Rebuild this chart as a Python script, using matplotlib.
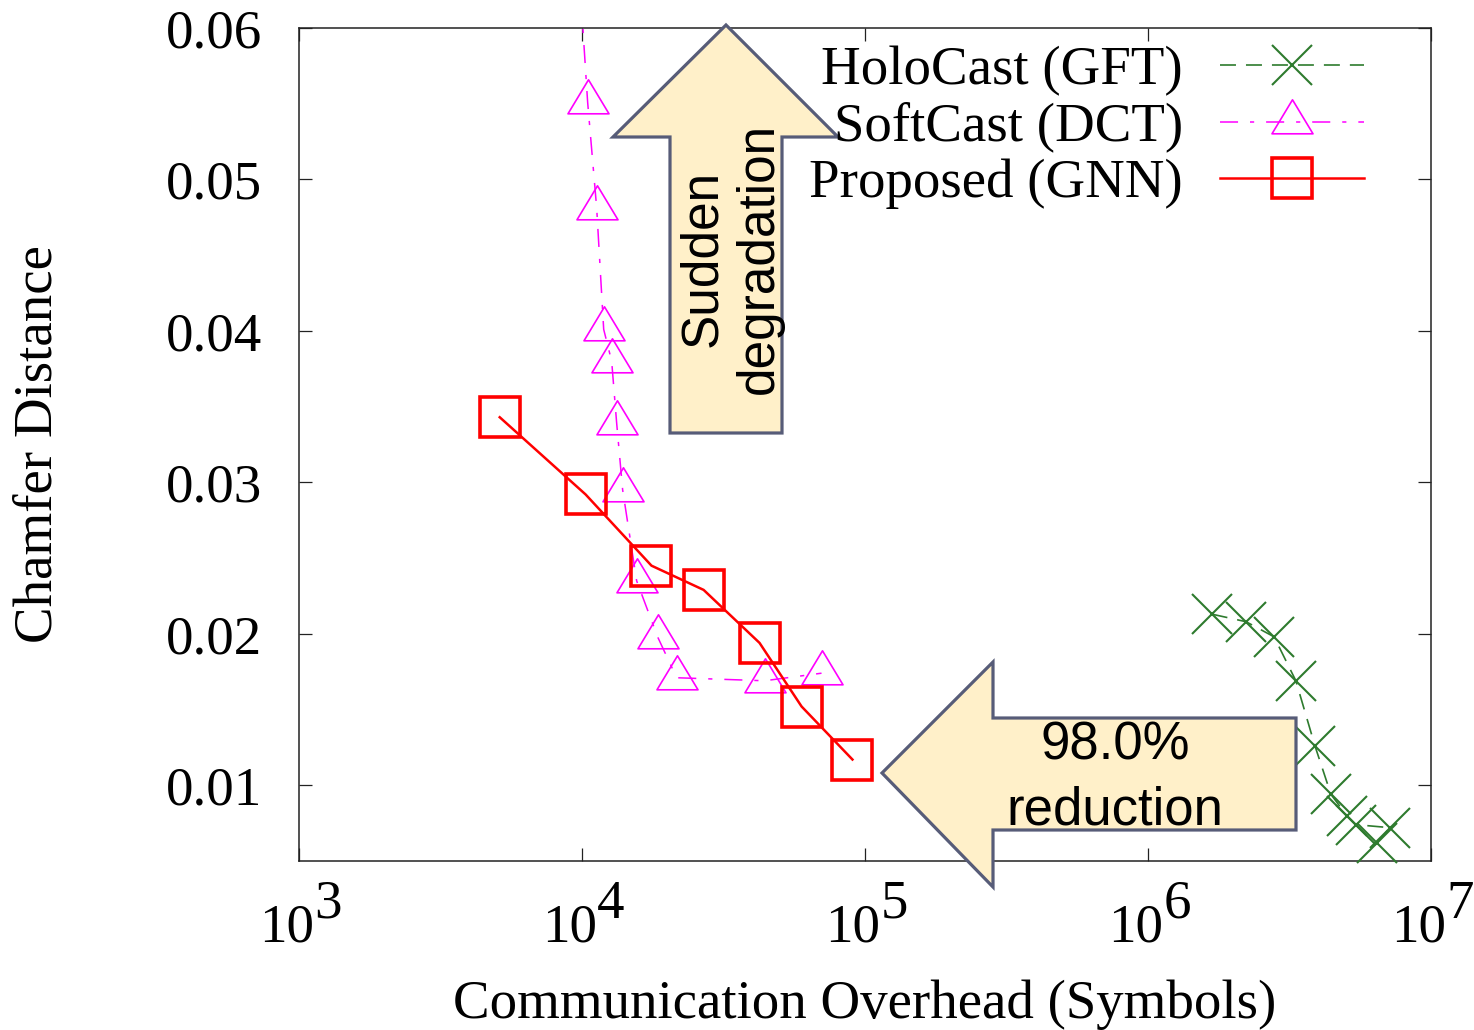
import matplotlib
matplotlib.use('Agg')
import matplotlib.pyplot as plt
import matplotlib.transforms as mtransforms
from matplotlib.patches import Polygon
from matplotlib.path import Path
from matplotlib.ticker import NullLocator

plt.rcParams['font.family'] = ['Liberation Serif', 'DejaVu Serif']
plt.rcParams['lines.scale_dashes'] = False

# ---------------- data ----------------
holo_x = [1.68e6, 2.22e6, 2.79e6, 3.33e6, 3.89e6, 4.43e6, 5.04e6, 5.43e6, 7.16e6, 6.44e6]
holo_y = [0.0213, 0.0208, 0.0198, 0.0169, 0.0126, 0.0094, 0.0080, 0.0074, 0.0072, 0.0062]

soft_x = [9300, 10470, 11270, 11930, 12730, 13260, 13920, 15600, 18500, 21600, 44150, 70200]
soft_y = [0.0700, 0.0551, 0.0481, 0.0401, 0.0380, 0.0339, 0.0295, 0.0235, 0.0198, 0.0171, 0.0169, 0.0174]

prop_x = [5120, 10300, 17600, 26900, 42400, 59700, 90300]
prop_y = [0.0343, 0.0292, 0.0245, 0.0229, 0.0194, 0.0152, 0.0117]

labels = ['HoloCast (GFT)', 'SoftCast (DCT)', 'Proposed (GNN)']
x_ticks = [1e3, 1e4, 1e5, 1e6, 1e7]
x_exps = ['3', '4', '5', '6', '7']
y_ticks = [0.01, 0.02, 0.03, 0.04, 0.05, 0.06]
y_ticklabels = ['0.01', '0.02', '0.03', '0.04', '0.05', '0.06']

# ---------------- figure ----------------
W, H = 1474, 1030
fig = plt.figure(figsize=(W / 100, H / 100), dpi=100)
pix = mtransforms.Affine2D().scale(1 / W, -1 / H).translate(0, 1) + fig.transFigure

ax = fig.add_axes([299 / W, 1 - 861 / H, (1431 - 299) / W, (861 - 28) / H])
ax.set_xscale('log')
ax.set_xlim(1e3, 1e7)
ax.set_ylim(0.005, 0.06)

FS = 39.5
green = '#2e7b2e'
pink = '#ff00ff'
red = '#ff0000'

# triangle marker with gnuplot-like centre (1/3 of the height above the base)
tri = Path([(0, 22.7), (-20.5, -11.3), (20.5, -11.3), (0, 22.7)],
           [Path.MOVETO, Path.LINETO, Path.LINETO, Path.CLOSEPOLY])

h1, = ax.plot(holo_x, holo_y, color=green, lw=1.2, linestyle=(0, (11.5, 7.2)),
              marker='x', ms=28.8, mew=1.5, label=labels[0], zorder=3, clip_on=False)
h2, = ax.plot(soft_x, soft_y, color=pink, lw=1.1, linestyle=(0, (13, 8.6, 3, 8.6)),
              marker=tri, ms=32.7, mfc='none', mec=pink, mew=1.2, label=labels[1], zorder=3)
h3, = ax.plot(prop_x, prop_y, color=red, lw=1.8, linestyle='-',
              marker='s', ms=29.5, mfc='none', mec=red, mew=2.6, label=labels[2], zorder=3,
              clip_on=False)

# ticks
ax.set_xticks(x_ticks)
ax.xaxis.set_minor_locator(NullLocator())
ax.set_xticklabels([])
ax.set_yticks(y_ticks)
ax.set_yticklabels(y_ticklabels)
ax.tick_params(axis='both', which='major', direction='in', length=9.4, width=0.9,
               top=True, right=True, labelsize=FS, pad=26.6, colors='#222222',
               labelcolor='black')
for sp in ax.spines.values():
    sp.set_linewidth(1.1)
    sp.set_color('#222222')

xt = ax.get_xaxis_transform()
for v, e in zip(x_ticks, x_exps):
    ax.annotate('10', xy=(v, 0), xycoords=xt, xytext=(11, -58.3), textcoords='offset points',
                ha='right', va='baseline', fontsize=FS, annotation_clip=False)
    ax.annotate(e, xy=(v, 0), xycoords=xt, xytext=(11, -41), textcoords='offset points',
                ha='left', va='baseline', fontsize=FS, annotation_clip=False)

ax.set_xlabel('Communication Overhead (Symbols)', fontsize=FS)
ax.xaxis.label.set_va('baseline')
ax.xaxis.set_label_coords(0.5, (861 - 1018) / 833)
ax.set_ylabel('Chamfer Distance', fontsize=FS)
ax.yaxis.label.set_va('center')
ax.yaxis.set_label_coords((38 - 299) / 1132, 0.5)

leg = ax.legend(handles=[h1, h2, h3], loc='upper right',
                bbox_to_anchor=(1364 / W, 1 - 46 / H), bbox_transform=fig.transFigure,
                frameon=False, markerfirst=False, handlelength=2.63, handletextpad=0.67,
                labelspacing=0.1, borderpad=0, borderaxespad=0, fontsize=FS, numpoints=1)
leg.set_zorder(6)

# ---------------- block arrows ----------------
fill = '#fff0c9'
edge = '#575c78'
up = Polygon([(726, 25), (838, 137), (782, 137), (782, 433), (670, 433), (670, 137), (613, 137)],
             closed=True, transform=pix, facecolor=fill, edgecolor=edge, lw=2.3,
             clip_on=False, zorder=4, joinstyle='miter')
left = Polygon([(882, 773), (993, 662), (993, 718), (1296, 718), (1296, 830), (993, 830), (993, 887)],
               closed=True, transform=pix, facecolor=fill, edgecolor=edge, lw=2.3,
               clip_on=False, zorder=4, joinstyle='miter')
ax.add_patch(up)
ax.add_patch(left)

ax.text(731, 258, 'Sudden\ndegradation', transform=pix, rotation=90, ha='center', va='center',
        multialignment='center', fontsize=37, family=['Liberation Sans', 'DejaVu Sans'],
        linespacing=1.22, zorder=5)
ax.text(1115, 778, '98.0%\nreduction', transform=pix, ha='center', va='center',
        multialignment='center', fontsize=38, family=['Liberation Sans', 'DejaVu Sans'],
        linespacing=1.38, zorder=5)

fig.savefig('out.png', dpi=100)
